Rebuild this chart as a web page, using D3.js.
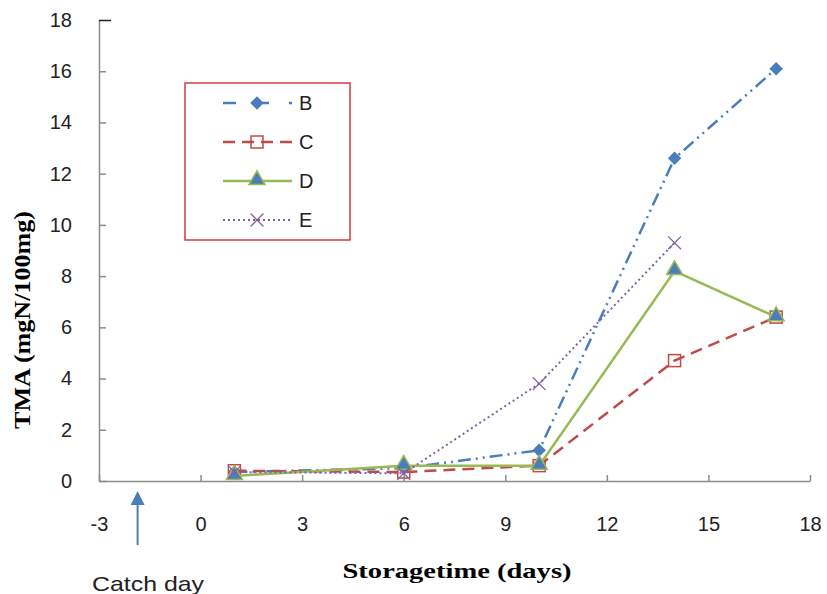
<!DOCTYPE html>
<meta charset='utf-8'>
<html>
<head>
<script src="https://d3js.org/d3.v7.min.js" charset="utf-8"></script>
<style>
  body { margin: 0; background: #fff; }
  .tick text { font-family: 'Liberation Sans', Arial, sans-serif; font-size: 20px; fill: #222; }
</style>
</head>
<body>
<div id="chart-container"></div>
<script>
// storage days and TMA values (mgN/100mg) per sample
const days = [1, 6, 10, 14, 17];
const seriesNames = ['B', 'C', 'D', 'E'];
const valuesB = [0.35, 0.5, 1.2, 12.6, 16.1];
const valuesC = [0.4, 0.35, 0.6, 4.7, 6.4];
const valuesD = [0.2, 0.6, 0.6, 8.2, 6.4];
const valuesE = [0.35, 0.3, 3.8, 9.3];
const xTicks = [-3, 0, 3, 6, 9, 12, 15, 18];
const yTicks = [0, 2, 4, 6, 8, 10, 12, 14, 16, 18];
const catchDay = -1.86;

const svgWidth = 827, svgHeight = 594;
const margin = {top: 20, left: 99, bottom: 113, right: 17};
const w = svgWidth - margin.left - margin.right;
const h = svgHeight - margin.top - margin.bottom;

const svg = d3.select('#chart-container').append('svg')
  .attr('width', svgWidth).attr('height', svgHeight);
const chart = svg.append('g')
  .attr('transform', 'translate(' + margin.left + ',' + margin.top + ')');

const xScale = d3.scaleLinear().domain([-3, 18]).range([0, w]);
const yScale = d3.scaleLinear().domain([0, 18]).range([h, 0]);

// plain hyphen for negatives, as in the original
const fmt = d => String(d);

// axes: ticks point inward, grey lines
const xAxis = chart.append('g')
  .attr('transform', 'translate(0,' + h + ')')
  .call(d3.axisBottom(xScale).tickValues(xTicks).tickFormat(fmt).tickSizeInner(-6).tickSizeOuter(0).tickPadding(36));
const yAxis = chart.append('g')
  .call(d3.axisLeft(yScale).tickValues(yTicks).tickFormat(fmt).tickSizeInner(-7).tickSizeOuter(0).tickPadding(27));
[xAxis, yAxis].forEach(a => {
  a.select('.domain').attr('stroke', '#8c8c8c').attr('stroke-width', 1.5);
  a.selectAll('.tick line').attr('stroke', '#8c8c8c').attr('stroke-width', 1.5);
});
yAxis.selectAll('.tick').filter(d => d === 18).select('line').attr('stroke', '#222').attr('x2', 12);

const styles = {
  B: {color: '#4a7ebb', dash: '13,5,2,5,2,5', data: valuesB},
  C: {color: '#be4b48', dash: '12,7', data: valuesC},
  D: {color: '#98b954', dash: null, data: valuesD},
  E: {color: '#8064a2', dash: '2,3', data: valuesE}
};

const line = d3.line().x(d => xScale(d[0])).y(d => yScale(d[1]));

function drawMarker(g, name, x, y) {
  const s = styles[name];
  if (name === 'B') {
    g.append('path').attr('d', d3.symbol().type(d3.symbolDiamond2).size(115)())
      .attr('transform', 'translate(' + x + ',' + y + ')').attr('fill', s.color);
  } else if (name === 'C') {
    g.append('rect').attr('x', x - 6).attr('y', y - 6).attr('width', 12).attr('height', 12)
      .attr('fill', 'none').attr('stroke', s.color).attr('stroke-width', 1.5);
  } else if (name === 'D') {
    g.append('path').attr('d', d3.symbol().type(d3.symbolTriangle).size(110)())
      .attr('transform', 'translate(' + x + ',' + (y - 1) + ')')
      .attr('fill', '#4a7ebb').attr('stroke', s.color).attr('stroke-width', 1.5);
  } else {
    g.append('path').attr('d', d3.symbol().type(d3.symbolX).size(110)())
      .attr('transform', 'translate(' + x + ',' + y + ')')
      .attr('fill', 'none').attr('stroke', s.color).attr('stroke-width', 1.3);
  }
}

// series lines, then markers
seriesNames.forEach(name => {
  const s = styles[name];
  const pts = s.data.map((v, i) => [days[i], v]);
  chart.append('path').datum(pts).attr('d', line)
    .attr('fill', 'none').attr('stroke', s.color)
    .attr('stroke-width', name === 'E' ? 2 : 2.5)
    .attr('stroke-dasharray', s.dash);
  const g = chart.append('g');
  pts.forEach(p => drawMarker(g, name, xScale(p[0]), yScale(p[1])));
});

// legend
const legend = svg.append('g').attr('transform', 'translate(185,83)');
legend.append('rect').attr('width', 165).attr('height', 157)
  .attr('fill', '#fff').attr('stroke', '#d33b3b').attr('stroke-width', 1.5);
seriesNames.forEach((name, i) => {
  const s = styles[name];
  const y = 20 + i * 39;
  legend.append('line').attr('x1', 38).attr('x2', 107).attr('y1', y).attr('y2', y)
    .attr('stroke', s.color).attr('stroke-width', name === 'E' ? 2 : 2.5)
    .attr('stroke-dasharray', name === 'B' ? '13,20' : s.dash);
  drawMarker(legend, name, 72, y);
  legend.append('text').attr('x', 114).attr('y', y + 7).text(name)
    .style('font-family', "'Liberation Sans', Arial, sans-serif").style('font-size', '20px').attr('fill', '#222');
});

// axis titles
svg.append('text').attr('transform', 'translate(30,320) rotate(-90)')
  .attr('text-anchor', 'middle').text('TMA (mgN/100mg)')
  .attr('textLength', 218).attr('lengthAdjust', 'spacingAndGlyphs')
  .style('font-family', "'Liberation Serif', 'Times New Roman', serif").style('font-weight', 'bold').style('font-size', '23px');
svg.append('text').attr('x', 457).attr('y', 578).attr('text-anchor', 'middle').text('Storagetime (days)')
  .attr('textLength', 229).attr('lengthAdjust', 'spacingAndGlyphs')
  .style('font-family', "'Liberation Serif', 'Times New Roman', serif").style('font-weight', 'bold').style('font-size', '22px');

// catch day arrow
const ax = margin.left + xScale(catchDay);
svg.append('line').attr('x1', ax).attr('x2', ax).attr('y1', 545).attr('y2', 503)
  .attr('stroke', '#4a7ebb').attr('stroke-width', 2);
svg.append('path').attr('d', 'M' + (ax - 7) + ',505 L' + ax + ',491 L' + (ax + 7) + ',505 Z').attr('fill', '#4a7ebb');
svg.append('text').attr('x', 92).attr('y', 591).text('Catch day')
  .attr('textLength', 112).attr('lengthAdjust', 'spacingAndGlyphs')
  .style('font-family', "'Liberation Sans', Arial, sans-serif").style('font-size', '21px').attr('fill', '#222');
</script>
</body>
</html>
